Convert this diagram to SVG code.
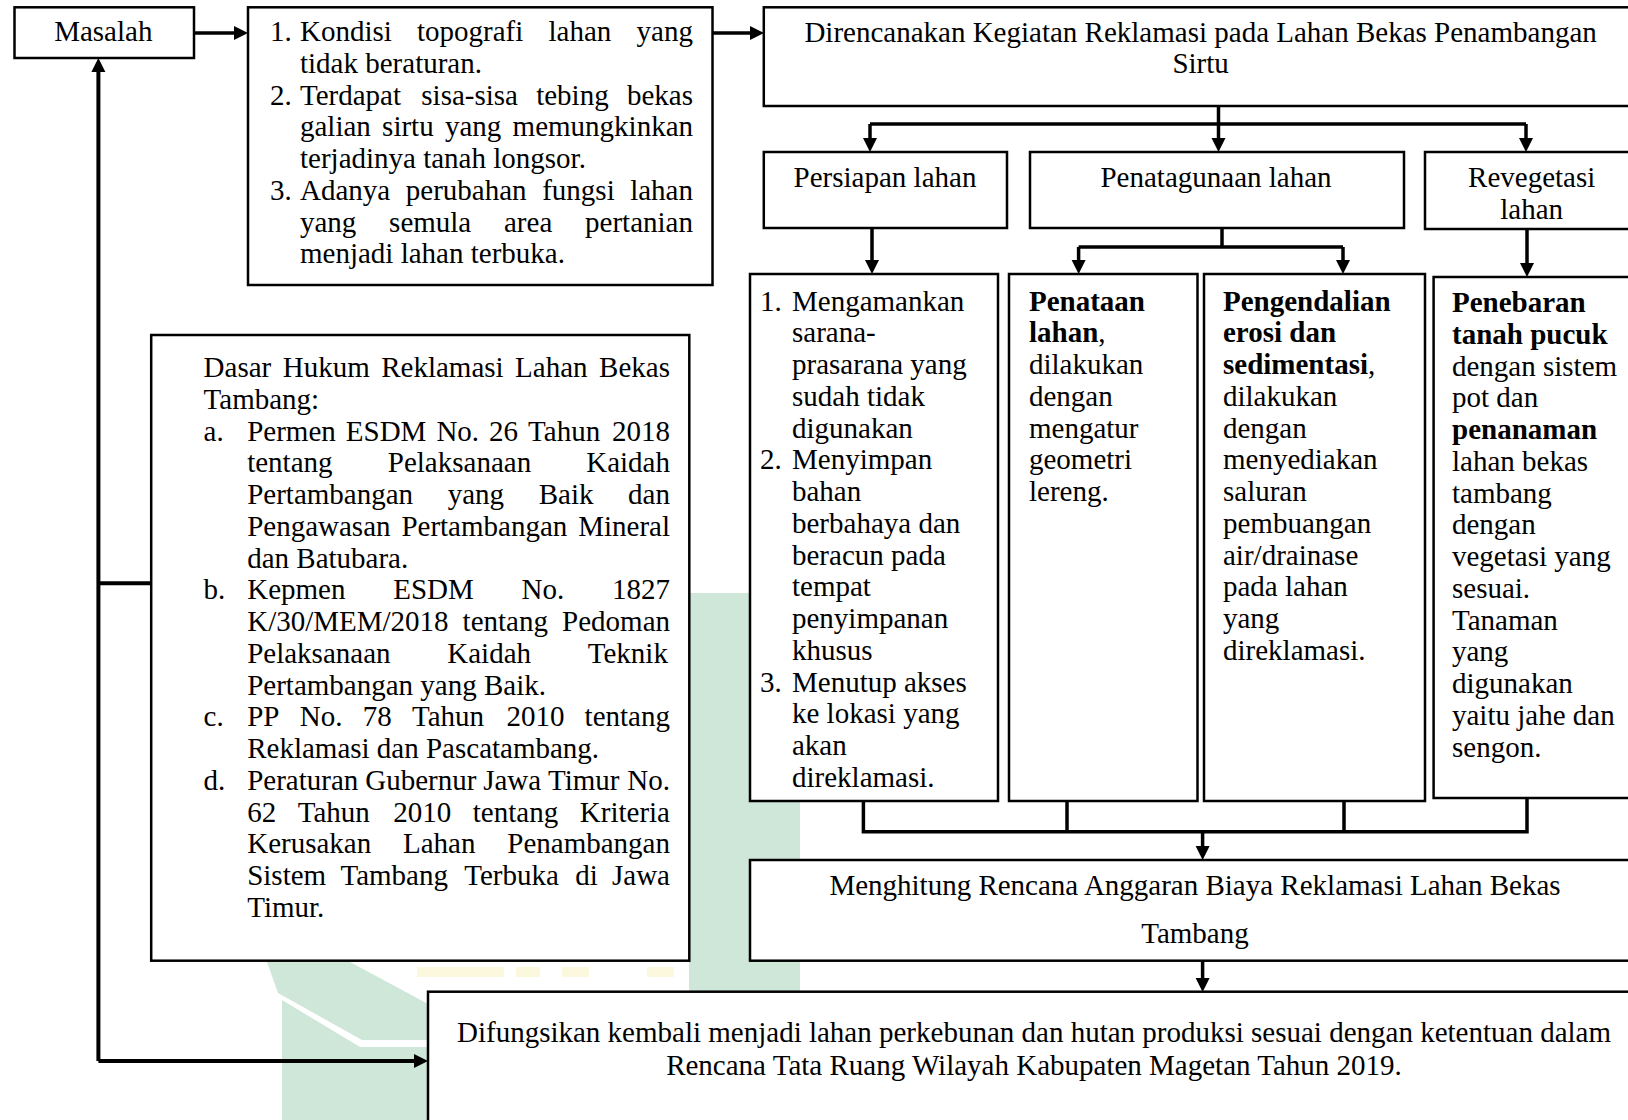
<svg xmlns="http://www.w3.org/2000/svg" width="1628" height="1120" viewBox="0 0 1628 1120">
<style>
.box{fill:#fff;stroke:#000;stroke-width:2.5}
.t{font-family:"Liberation Serif","Times New Roman",serif;font-size:29px;fill:#000}
.c{text-anchor:middle}
.b{font-weight:bold}
.ln{stroke:#000;stroke-width:3.5;fill:none}
.lw{stroke:#000;stroke-width:4;fill:none}
.wm{fill:#cfe7d9}
.wy{fill:#fbf8dd}
</style>
<defs>
<marker id="ah" markerUnits="userSpaceOnUse" markerWidth="15" markerHeight="15" refX="8" refY="7" orient="auto">
<path d="M0,0 L14,7 L0,14 z" fill="#000"/>
</marker>
</defs>
<rect width="1628" height="1120" fill="#fff"/>
<g id="watermark">
<polygon class="wm" points="282,1000 360,1047 430,1047 430,1120 282,1120"/>
<polygon class="wm" points="267,962 350,962 430,1005 430,1040 362,1040 278,993"/>
<rect class="wm" x="689" y="593" width="111" height="399"/>
<rect class="wy" x="417" y="967" width="87" height="10"/>
<rect class="wy" x="516" y="967" width="24" height="10"/>
<rect class="wy" x="562" y="967" width="27" height="10"/>
<rect class="wy" x="647" y="967" width="27" height="10"/>
</g>
<g id="connectors">
<path class="ln" d="M194,33 H242" marker-end="url(#ah)"/>
<path class="ln" d="M712.5,33 H758" marker-end="url(#ah)"/>
<path class="ln" d="M1218.5,106 V146" marker-end="url(#ah)"/>
<path class="ln" d="M870,124 H1526"/>
<path class="ln" d="M870,124 V146" marker-end="url(#ah)"/>
<path class="ln" d="M1526,124 V146" marker-end="url(#ah)"/>
<path class="ln" d="M872,228 V268" marker-end="url(#ah)"/>
<path class="ln" d="M1222,228 V247"/>
<path class="ln" d="M1078.6,247 H1343"/>
<path class="ln" d="M1078.6,247 V268" marker-end="url(#ah)"/>
<path class="ln" d="M1343,247 V268" marker-end="url(#ah)"/>
<path class="ln" d="M1527,229 V271" marker-end="url(#ah)"/>
<path class="ln" d="M863.4,801 V831.7 H1527 V798"/>
<path class="ln" d="M1067,801 V831.7"/>
<path class="ln" d="M1344,801 V831.7"/>
<path class="ln" d="M1202.6,831.7 V854" marker-end="url(#ah)"/>
<path class="ln" d="M1202.6,961 V986" marker-end="url(#ah)"/>
<path class="lw" d="M151.2,583.3 H98.4"/>
<path class="lw" d="M98.4,1061 V64" marker-end="url(#ah)"/>
<path class="lw" d="M98.4,1061 H422" marker-end="url(#ah)"/>
</g>
<g id="masalah">
<rect class="box" x="14.5" y="7.3" width="179.5" height="50.7"/>
<text class="t c" x="103.3" y="41">Masalah</text>
</g>
<g id="kondisi">
<rect class="box" x="248" y="7.3" width="464.5" height="277.7"/>
<text class="t">
<tspan x="270" y="41">1.</tspan><tspan x="300" y="41">Kondisi</tspan><tspan x="417" y="41">topografi</tspan><tspan x="548.5" y="41">lahan</tspan><tspan x="636.6" y="41">yang</tspan>
<tspan x="300" y="72.75">tidak beraturan.</tspan>
<tspan x="270" y="104.5">2.</tspan><tspan x="300" y="104.5">Terdapat</tspan><tspan x="421.3" y="104.5">sisa-sisa</tspan><tspan x="536.2" y="104.5">tebing</tspan><tspan x="627" y="104.5">bekas</tspan>
<tspan x="300" y="136.25">galian</tspan><tspan x="382.1" y="136.25">sirtu</tspan><tspan x="444.9" y="136.25">yang</tspan><tspan x="512.6" y="136.25">memungkinkan</tspan>
<tspan x="300" y="168">terjadinya tanah longsor.</tspan>
<tspan x="270" y="199.75">3.</tspan><tspan x="300" y="199.75">Adanya</tspan><tspan x="405.8" y="199.75">perubahan</tspan><tspan x="542.2" y="199.75">fungsi</tspan><tspan x="630.2" y="199.75">lahan</tspan>
<tspan x="300" y="231.5">yang</tspan><tspan x="389.1" y="231.5">semula</tspan><tspan x="504" y="231.5">area</tspan><tspan x="585.1" y="231.5">pertanian</tspan>
<tspan x="300" y="263.25">menjadi lahan terbuka.</tspan>
</text>
</g>
<g id="direncanakan">
<rect class="box" x="763.8" y="7.3" width="880" height="98.7"/>
<text class="t c"><tspan x="1200.6" y="41.5">Direncanakan Kegiatan Reklamasi pada Lahan Bekas Penambangan</tspan><tspan x="1200.6" y="73">Sirtu</tspan></text>
</g>
<g id="persiapan">
<rect class="box" x="763.8" y="152" width="243.2" height="76"/>
<text class="t c" x="885" y="187">Persiapan lahan</text>
</g>
<g id="penatagunaan">
<rect class="box" x="1030" y="152" width="374" height="76"/>
<text class="t c" x="1216" y="187">Penatagunaan lahan</text>
</g>
<g id="revegetasi">
<rect class="box" x="1425" y="152" width="220" height="77"/>
<text class="t c"><tspan x="1531.7" y="187">Revegetasi</tspan><tspan x="1531.7" y="218.7">lahan</tspan></text>
</g>
<g id="persiapan-list">
<rect class="box" x="750" y="274" width="248" height="527"/>
<text class="t">
<tspan x="760" y="310.7">1.</tspan><tspan x="792" y="310.7">Mengamankan</tspan>
<tspan x="792" y="342.45">sarana-</tspan>
<tspan x="792" y="374.2">prasarana yang</tspan>
<tspan x="792" y="405.95">sudah tidak</tspan>
<tspan x="792" y="437.7">digunakan</tspan>
<tspan x="760" y="469.45">2.</tspan><tspan x="792" y="469.45">Menyimpan</tspan>
<tspan x="792" y="501.2">bahan</tspan>
<tspan x="792" y="532.95">berbahaya dan</tspan>
<tspan x="792" y="564.7">beracun pada</tspan>
<tspan x="792" y="596.45">tempat</tspan>
<tspan x="792" y="628.2">penyimpanan</tspan>
<tspan x="792" y="659.95">khusus</tspan>
<tspan x="760" y="691.7">3.</tspan><tspan x="792" y="691.7">Menutup akses</tspan>
<tspan x="792" y="723.45">ke lokasi yang</tspan>
<tspan x="792" y="755.2">akan</tspan>
<tspan x="792" y="786.95">direklamasi.</tspan>
</text>
</g>
<g id="penataan">
<rect class="box" x="1009" y="274" width="188.5" height="527"/>
<text class="t">
<tspan x="1029" y="310.7" class="b">Penataan</tspan>
<tspan x="1029" y="342.45"><tspan class="b">lahan</tspan>,</tspan>
<tspan x="1029" y="374.2">dilakukan</tspan>
<tspan x="1029" y="405.95">dengan</tspan>
<tspan x="1029" y="437.7">mengatur</tspan>
<tspan x="1029" y="469.45">geometri</tspan>
<tspan x="1029" y="501.2">lereng.</tspan>
</text>
</g>
<g id="pengendalian">
<rect class="box" x="1204" y="274" width="221" height="527"/>
<text class="t">
<tspan x="1223" y="310.7" class="b">Pengendalian</tspan>
<tspan x="1223" y="342.45" class="b">erosi dan</tspan>
<tspan x="1223" y="374.2"><tspan class="b">sedimentasi</tspan>,</tspan>
<tspan x="1223" y="405.95">dilakukan</tspan>
<tspan x="1223" y="437.7">dengan</tspan>
<tspan x="1223" y="469.45">menyediakan</tspan>
<tspan x="1223" y="501.2">saluran</tspan>
<tspan x="1223" y="532.95">pembuangan</tspan>
<tspan x="1223" y="564.7">air/drainase</tspan>
<tspan x="1223" y="596.45">pada lahan</tspan>
<tspan x="1223" y="628.2">yang</tspan>
<tspan x="1223" y="659.95">direklamasi.</tspan>
</text>
</g>
<g id="penebaran">
<rect class="box" x="1433.6" y="277" width="210" height="521"/>
<text class="t">
<tspan x="1452" y="312.2" class="b">Penebaran</tspan>
<tspan x="1452" y="343.95" class="b">tanah pucuk</tspan>
<tspan x="1452" y="375.7">dengan sistem</tspan>
<tspan x="1452" y="407.45">pot dan</tspan>
<tspan x="1452" y="439.2" class="b">penanaman</tspan>
<tspan x="1452" y="470.95">lahan bekas</tspan>
<tspan x="1452" y="502.7">tambang</tspan>
<tspan x="1452" y="534.45">dengan</tspan>
<tspan x="1452" y="566.2">vegetasi yang</tspan>
<tspan x="1452" y="597.95">sesuai.</tspan>
<tspan x="1452" y="629.7">Tanaman</tspan>
<tspan x="1452" y="661.45">yang</tspan>
<tspan x="1452" y="693.2">digunakan</tspan>
<tspan x="1452" y="724.95">yaitu jahe dan</tspan>
<tspan x="1452" y="756.7">sengon.</tspan>
</text>
</g>
<g id="dasar-hukum">
<rect class="box" x="151.2" y="335" width="538.1" height="625.7"/>
<text class="t">
<tspan x="203.6" y="377">Dasar</tspan><tspan x="282.7" y="377">Hukum</tspan><tspan x="381.2" y="377">Reklamasi</tspan><tspan x="515.1" y="377">Lahan</tspan><tspan x="599.1" y="377">Bekas</tspan>
<tspan x="203.6" y="408.75">Tambang:</tspan>
<tspan x="203.6" y="440.5">a.</tspan><tspan x="247.2" y="440.5">Permen</tspan><tspan x="345.8" y="440.5">ESDM</tspan><tspan x="436.4" y="440.5">No.</tspan><tspan x="489.1" y="440.5">26</tspan><tspan x="528.1" y="440.5">Tahun</tspan><tspan x="612" y="440.5">2018</tspan>
<tspan x="247.2" y="472.25">tentang</tspan><tspan x="387.8" y="472.25">Pelaksanaan</tspan><tspan x="586.2" y="472.25">Kaidah</tspan>
<tspan x="247.2" y="504">Pertambangan</tspan><tspan x="447.7" y="504">yang</tspan><tspan x="538.7" y="504">Baik</tspan><tspan x="628.1" y="504">dan</tspan>
<tspan x="247.2" y="535.75">Pengawasan</tspan><tspan x="401.4" y="535.75">Pertambangan</tspan><tspan x="578.2" y="535.75">Mineral</tspan>
<tspan x="247.2" y="567.5">dan Batubara.</tspan>
<tspan x="203.6" y="599.25">b.</tspan><tspan x="247.2" y="599.25">Kepmen</tspan><tspan x="393.2" y="599.25">ESDM</tspan><tspan x="521.5" y="599.25">No.</tspan><tspan x="612" y="599.25">1827</tspan>
<tspan x="247.2" y="631">K/30/MEM/2018</tspan><tspan x="462.6" y="631">tentang</tspan><tspan x="562.1" y="631">Pedoman</tspan>
<tspan x="247.2" y="662.75">Pelaksanaan</tspan><tspan x="447.3" y="662.75">Kaidah</tspan><tspan x="587.8" y="662.75">Teknik</tspan>
<tspan x="247.2" y="694.5">Pertambangan yang Baik.</tspan>
<tspan x="203.6" y="726.25">c.</tspan><tspan x="247.2" y="726.25">PP</tspan><tspan x="299.7" y="726.25">No.</tspan><tspan x="362.7" y="726.25">78</tspan><tspan x="412" y="726.25">Tahun</tspan><tspan x="506.4" y="726.25">2010</tspan><tspan x="584.6" y="726.25">tentang</tspan>
<tspan x="247.2" y="758">Reklamasi dan Pascatambang.</tspan>
<tspan x="203.6" y="789.75">d.</tspan><tspan x="247.2" y="789.75">Peraturan</tspan><tspan x="365.2" y="789.75">Gubernur</tspan><tspan x="483.2" y="789.75">Jawa</tspan><tspan x="548" y="789.75">Timur</tspan><tspan x="627.3" y="789.75">No.</tspan>
<tspan x="247.2" y="821.5">62</tspan><tspan x="297.7" y="821.5">Tahun</tspan><tspan x="393.3" y="821.5">2010</tspan><tspan x="472.8" y="821.5">tentang</tspan><tspan x="579.8" y="821.5">Kriteria</tspan>
<tspan x="247.2" y="853.25">Kerusakan</tspan><tspan x="403" y="853.25">Lahan</tspan><tspan x="507.3" y="853.25">Penambangan</tspan>
<tspan x="247.2" y="885">Sistem</tspan><tspan x="340.5" y="885">Tambang</tspan><tspan x="464.3" y="885">Terbuka</tspan><tspan x="575.2" y="885">di</tspan><tspan x="612" y="885">Jawa</tspan>
<tspan x="247.2" y="916.75">Timur.</tspan>
</text>
</g>
<g id="menghitung">
<rect class="box" x="750" y="860" width="894" height="100.7"/>
<text class="t c"><tspan x="1195" y="895">Menghitung Rencana Anggaran Biaya Reklamasi Lahan Bekas</tspan><tspan x="1195" y="943">Tambang</tspan></text>
</g>
<g id="difungsikan">
<rect class="box" x="428" y="991.7" width="1216" height="140"/>
<text class="t c"><tspan x="1034" y="1042">Difungsikan kembali menjadi lahan perkebunan dan hutan produksi sesuai dengan ketentuan dalam</tspan><tspan x="1034" y="1075">Rencana Tata Ruang Wilayah Kabupaten Magetan Tahun 2019.</tspan></text>
</g>
</svg>
